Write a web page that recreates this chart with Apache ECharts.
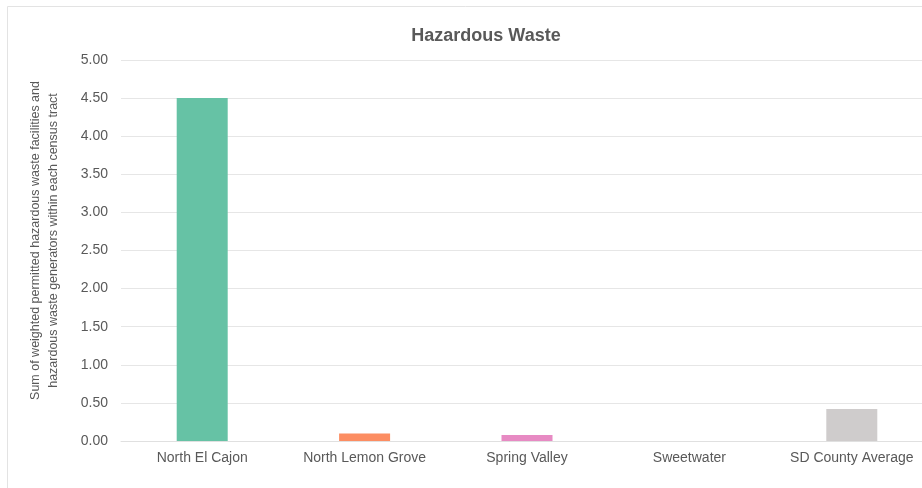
<!DOCTYPE html>
<html>
<head>
<meta charset="utf-8">
<title>Hazardous Waste</title>
<style>
  html, body { margin: 0; padding: 0; background: #fff; }
  #chart { width: 922px; height: 488px; }
</style>
</head>
<body>
<div id="chart"></div>
<script src="https://cdn.jsdelivr.net/npm/echarts@6/dist/echarts.min.js"></script>
<script>
  // data
  var categories = ['North El Cajon', 'North Lemon Grove', 'Spring Valley', 'Sweetwater', 'SD County Average'];
  var values = [4.50, 0.10, 0.08, 0, 0.42];
  var barColors = ['#66c2a5', '#fc8d62', '#e78ac3', '#66a61e', '#cfcccc'];

  var chart = echarts.init(document.getElementById('chart'));
  var font = 'Liberation Sans, Arial, sans-serif';

  chart.setOption({
    animation: false,
    textStyle: { fontFamily: font },
    title: {
      text: 'Hazardous Waste',
      left: 481, top: 22, textAlign: 'center',
      textStyle: { fontSize: 18, fontWeight: 'bold', color: '#595959', fontFamily: font }
    },
    // light frame round the chart
    graphic: [{
      type: 'rect',
      shape: { x: 7.5, y: 6.5, width: 940, height: 500 },
      style: { fill: 'none', stroke: '#e3e3e3', lineWidth: 1 },
      silent: true
    }],
    // plot runs past the right edge of the window, as in the cropped original
    grid: { left: 121, width: 812, top: 60, bottom: 47, outerBoundsMode: 'none', containLabel: false },
    xAxis: {
      type: 'category',
      data: categories,
      axisTick: { show: false },
      axisLine: { lineStyle: { color: '#e0e0e0' } },
      axisLabel: { color: '#595959', fontSize: 14, margin: 10, interval: 0 }
    },
    yAxis: {
      type: 'value',
      min: 0, max: 5, interval: 0.5,
      name: 'Sum of weighted permitted hazardous waste facilities and\nhazardous waste generators within each census tract',
      nameLocation: 'middle',
      nameGap: 58,
      nameTextStyle: { color: '#595959', fontSize: 12.5, lineHeight: 18, padding: [0, 0, 0, 20] },
      axisLine: { show: false },
      axisTick: { show: false },
      splitLine: { lineStyle: { color: '#e6e6e6' } },
      axisLabel: {
        color: '#595959', fontSize: 14, margin: 13,
        formatter: function (v) { return v.toFixed(2); }
      }
    },
    series: [{
      type: 'bar',
      barWidth: 51,
      data: values.map(function (v, i) {
        return { value: v, itemStyle: { color: barColors[i] } };
      })
    }]
  });
</script>
</body>
</html>
